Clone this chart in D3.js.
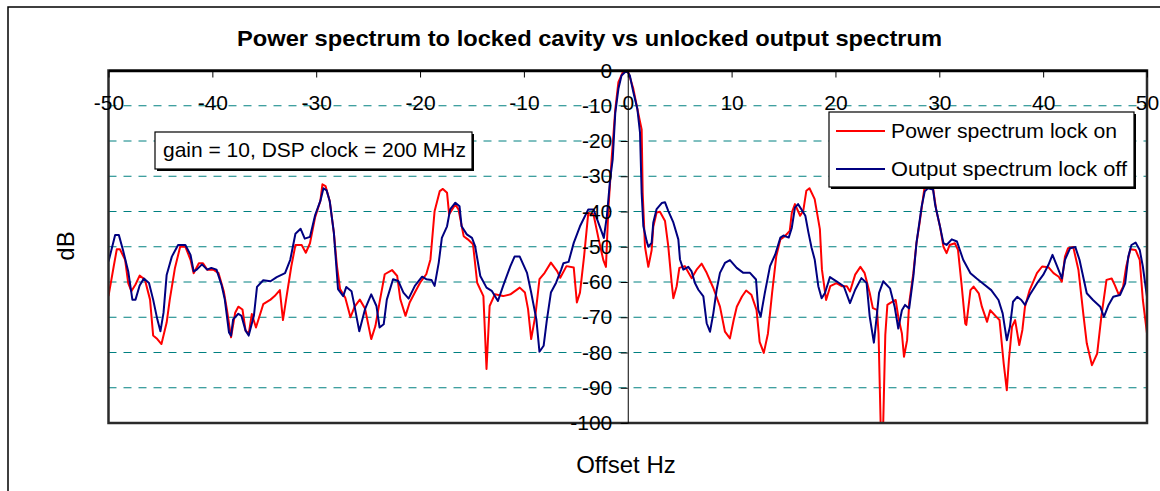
<!DOCTYPE html>
<html><head><meta charset="utf-8">
<script src="https://cdn.jsdelivr.net/npm/d3@7"></script>
<style>
html,body{margin:0;padding:0;background:#fff;}
svg{display:block;font-family:"Liberation Sans",Arial,sans-serif;}
</style></head>
<body><svg id="chart" width="1160" height="491"></svg>
<script>
// ---- data ----
const chartTitle = "Power spectrum to locked cavity vs unlocked output spectrum";
const xLabel = "Offset Hz";
const yLabel = "dB";
const seriesNames = ["Power spectrum lock on", "Output spectrum lock off"];
const noteText = "gain = 10, DSP clock = 200 MHz";
const xTicks = [-50,-40,-30,-20,-10,0,10,20,30,40,50];
const yTicks = [0,-10,-20,-30,-40,-50,-60,-70,-80,-90,-100];

// Power spectrum lock on (red)
const lockOnHz = [-50,-49.5,-49.2,-48.9,-48.4,-48.1,-47.8,-47.4,-47.0,-46.5,-46.0,-45.7,-45.3,-44.9,-44.4,-44.1,-43.6,-43.1,-42.6,-42.1,-41.8,-41.3,-40.9,-40.5,-39.9,-39.4,-38.9,-38.6,-38.2,-37.8,-37.5,-37.1,-36.8,-36.5,-36.2,-35.8,-35.1,-34.4,-34.0,-33.5,-33.2,-32.9,-32.4,-32.0,-31.4,-31.0,-30.6,-30.1,-29.6,-29.4,-29.1,-28.7,-28.3,-28.0,-27.7,-27.2,-26.7,-26.3,-25.8,-25.3,-24.7,-24.3,-23.9,-23.4,-22.7,-22.2,-21.9,-21.4,-21.0,-20.5,-20.0,-19.4,-19.0,-18.6,-18.1,-17.8,-17.4,-17.2,-16.6,-16.3,-15.8,-15.4,-14.9,-14.5,-13.9,-13.6,-13.3,-12.8,-12.0,-11.3,-10.4,-9.9,-9.6,-9.3,-8.9,-8.5,-8.0,-7.4,-6.8,-6.5,-5.9,-5.2,-4.9,-4.6,-4.2,-3.8,-3.3,-2.8,-2.35,-2.1,-1.87,-1.55,-1.2,-0.9,-0.4,0.06,0.54,1.0,1.34,1.44,1.66,1.98,2.3,2.46,2.78,3.1,3.59,3.9,4.23,4.39,4.71,4.97,5.5,6.15,6.63,7.12,7.6,8.24,8.88,9.36,9.84,10.2,10.5,11.0,11.4,11.9,12.4,12.7,13.1,13.5,13.9,14.3,14.7,15.1,15.6,15.8,16.1,16.6,16.9,17.2,17.5,18.0,18.5,18.7,19.1,19.5,20.1,20.6,21.1,21.4,21.9,22.4,22.8,23.3,23.6,24.0,24.15,24.35,24.6,24.8,25.0,25.25,25.8,26.05,26.4,26.6,26.9,27.1,27.5,27.8,28.1,28.5,28.6,29.1,29.4,29.7,30.07,30.4,30.7,31.0,31.5,31.8,32.15,32.5,32.6,33.0,33.3,33.8,34.1,34.6,34.9,35.5,35.8,36.2,36.5,36.7,37.0,37.3,37.7,38.0,38.25,38.7,39.4,39.9,40.5,41.0,41.5,41.8,42.1,42.4,42.9,43.4,43.9,44.2,44.7,45.2,45.6,46.1,46.6,46.9,47.3,47.7,48.0,48.4,48.9,49.3,49.6,50.0];
const lockOnDb = [-64,-55.6,-50.7,-50.7,-53.7,-60.3,-62.6,-60.7,-58.2,-59.3,-65,-75.2,-76.2,-77.6,-71.5,-65,-56,-50,-50,-53.7,-57.5,-54.7,-54.7,-56.5,-56.5,-57.5,-62.6,-67.8,-75.7,-68.7,-67,-67.8,-73.8,-74.7,-69.1,-72.9,-66.3,-65,-64,-62.3,-70.8,-65,-55.6,-49.5,-49.5,-51.7,-49,-41.6,-37,-32.3,-32.8,-37,-46,-55.6,-62,-64.5,-70,-67,-65,-67.5,-76.2,-72.5,-65.8,-57.8,-56.6,-58.3,-64.9,-69.6,-65.8,-63,-60.2,-57.8,-53.6,-39.9,-34.2,-33.6,-34.7,-40.8,-38,-39.4,-47,-47.9,-49.3,-60.2,-64,-84.7,-66.8,-63.5,-64,-63.5,-61.6,-63,-67.7,-76.2,-69.6,-59.2,-57.4,-54.5,-56.9,-58.8,-55.5,-55.9,-65.8,-63,-52.6,-40.4,-40.8,-47.9,-53.8,-55.7,-39.5,-25,-11,-3.3,0,-0.5,-5.2,-12,-16.7,-34.8,-50,-55.7,-51,-44.3,-40.3,-40.1,-42.7,-49.8,-60.3,-64.6,-61.2,-56,-55.5,-58.9,-56.5,-54.8,-57.4,-61.7,-67,-74.1,-76,-70.8,-67,-64.1,-62.4,-63.6,-67.9,-77,-80.1,-74.6,-63.1,-52.7,-47.9,-47.1,-45.5,-40.3,-37.9,-41.2,-39.8,-34.1,-33.4,-36.5,-45,-56.5,-65.1,-61.2,-60.3,-61.2,-61.2,-62.7,-57.9,-55.7,-57.4,-63.1,-67.4,-67.9,-74.6,-100,-100,-75,-66.5,-66,-65.1,-69.9,-74.6,-81.2,-76.5,-66,-57.5,-49,-43.3,-34.8,-32.9,-32.4,-33.4,-39.5,-44.3,-50,-51.8,-49.5,-49,-50.9,-60.9,-71.8,-72.2,-62.3,-61.3,-63.2,-67,-71.3,-68,-69.9,-70.8,-83.1,-90.7,-82.2,-72.7,-70.8,-77.9,-73.6,-67,-62.3,-57.5,-55.6,-55.8,-57.5,-58.5,-59.9,-52.8,-50.4,-50.1,-56.6,-69.9,-77.4,-83.6,-80.3,-69.9,-59.4,-59,-60.9,-63.7,-61.3,-55.6,-50.7,-50.9,-53.7,-65.1,-74.6];

// Output spectrum lock off (blue)
const lockOffHz = [-50,-49.36,-49.0,-48.6,-48.1,-47.7,-47.4,-47.0,-46.6,-46.1,-45.7,-45.3,-45.0,-44.7,-44.4,-43.9,-43.3,-42.6,-42.1,-41.8,-41.5,-41.0,-40.5,-40.1,-39.6,-39.1,-38.8,-38.4,-38.2,-38.0,-37.5,-37.2,-36.8,-36.5,-36.0,-35.7,-35.1,-34.4,-33.8,-33.0,-32.5,-32.0,-31.5,-31.1,-30.6,-30.1,-29.6,-29.3,-29.0,-28.7,-28.3,-27.9,-27.4,-27.1,-26.6,-26.3,-25.85,-25.3,-24.7,-24.2,-23.9,-23.5,-23.2,-22.6,-22.1,-21.6,-21.1,-20.5,-19.8,-19.4,-18.9,-18.6,-18.2,-17.9,-17.4,-17.1,-16.6,-16.2,-16.0,-15.5,-15.0,-14.7,-14.2,-13.6,-13.1,-12.5,-12.0,-11.3,-10.9,-10.4,-9.7,-9.3,-8.8,-8.5,-8.1,-7.8,-7.4,-6.9,-6.4,-6.2,-5.7,-5.2,-4.6,-3.8,-3.3,-2.7,-2.3,-2.0,-1.7,-1.45,-1.2,-0.9,-0.6,-0.1,0.2,0.54,0.93,1.18,1.34,1.5,1.82,1.98,2.3,2.46,2.78,3.27,3.59,3.9,4.39,4.87,5.03,5.35,5.83,6.15,6.47,6.8,7.28,7.6,7.92,8.24,8.56,8.88,9.36,9.84,10.49,11.13,11.77,12.35,12.57,12.8,13.2,13.7,14.2,14.7,15.0,15.5,15.8,16.1,16.4,16.7,17.1,17.4,17.7,18.0,18.35,18.67,18.99,19.47,20.1,20.8,21.4,21.9,22.5,23.0,23.3,23.7,23.97,24.2,24.6,25.25,25.7,26.05,26.4,26.7,27.1,27.5,27.8,28.3,28.6,28.9,29.4,29.6,30.07,30.4,30.7,31.2,31.7,32.3,33.0,33.6,34.2,35.0,35.7,36.1,36.5,36.8,37.1,37.5,37.9,38.25,38.7,39.4,40.0,40.5,40.9,41.3,41.8,42.1,42.6,43.1,43.5,44.2,44.8,45.5,45.85,46.3,46.75,47.4,47.9,48.2,48.5,48.9,49.3,49.6,50.0];
const lockOffDb = [-54.2,-46.7,-46.7,-51,-57,-65,-65,-61,-59,-60.3,-65,-70.6,-74,-68.7,-58,-52.8,-49.5,-49.5,-52.3,-57,-56.5,-55,-56.5,-56,-56.5,-61,-65,-74.3,-75.2,-70.6,-69,-69.6,-73.8,-75.2,-69.6,-61.4,-59.5,-59.8,-58.6,-57.5,-53.7,-46.3,-44.9,-47.7,-47.2,-41,-37,-33.4,-34,-37,-46,-62,-64,-61.4,-62.6,-67,-74,-67.7,-63.5,-66.8,-72.9,-72,-65,-59.2,-59.7,-63,-64.7,-61.1,-58.5,-59.2,-59.4,-61.1,-54.5,-47.5,-44.2,-39.4,-37.5,-38.5,-44.2,-46.5,-47.5,-49.8,-58.3,-61.6,-62.5,-65.4,-61.1,-55.5,-52.8,-52.8,-57.4,-63,-70.6,-79.8,-78.1,-71,-63,-60.2,-56.4,-54.7,-54.3,-48.9,-44.2,-39.4,-39.4,-44.2,-47.5,-41,-31,-25.2,-12,-5.2,-1.4,0,-1.4,-6.2,-11,-17.6,-34.8,-44.1,-48.4,-50,-48.9,-43.1,-39.3,-37.6,-37.4,-39.8,-43.1,-47.9,-53.6,-56.5,-55.7,-57,-60.3,-62.2,-64.1,-71.7,-74.1,-68.9,-62.2,-57.4,-54.6,-53.8,-56,-57.4,-57.4,-59.3,-67.9,-69.8,-63.1,-55.5,-52.2,-47.4,-46.8,-47.4,-44.6,-38.9,-37.9,-39.3,-41.2,-46,-50.3,-53.6,-61.2,-64.6,-63.1,-58.6,-59.8,-61.2,-66,-62.2,-58.9,-60.3,-69.8,-77.2,-69.8,-63.1,-59.8,-61.8,-67,-73.2,-68,-66.5,-67.5,-58.5,-49,-38.6,-34.3,-33.4,-33.8,-38.1,-44.3,-49,-49.5,-47.9,-48.5,-53.7,-57.5,-59,-60.4,-62.3,-65.1,-68.9,-76.5,-72.7,-65.6,-64.2,-65.1,-66.5,-63.7,-60.4,-58,-55.2,-52.3,-55.2,-59,-53.7,-50.4,-50.1,-53.7,-63.2,-65.1,-67,-69.9,-66.5,-64.2,-63.7,-60.4,-52.8,-49.5,-48.8,-50.9,-55.6,-64.2];

const seriesColors = ["#FF0000", "#000080"];

// ---- drawing ----
const svg = d3.select("#chart");
const L = 108.5, R = 1147, T = 70.5, B = 423;
const x = d3.scaleLinear().domain([-50, 50]).range([L, R]);
const y = d3.scaleLinear().domain([-100, 0]).range([B, T]);
const plainFmt = d => String(d);

// outer frame
svg.append("rect").attr("x", 8).attr("y", 7).attr("width", 1160).attr("height", 500)
  .attr("fill", "#fff").attr("stroke", "#000").attr("stroke-width", 1.5);

// title
svg.append("text").attr("x", 589.5).attr("y", 46).attr("text-anchor", "middle")
  .attr("font-size", 22).attr("font-weight", "bold")
  .attr("textLength", 705).attr("lengthAdjust", "spacingAndGlyphs").text(chartTitle);

// gridlines
svg.append("g").selectAll("line").data(yTicks.filter(d => d > -100 && d < 0)).join("line")
  .attr("x1", L).attr("x2", R).attr("y1", d => y(d)).attr("y2", d => y(d))
  .attr("stroke", "#008080").attr("stroke-width", 1).attr("stroke-dasharray", "8,7");

// clip
svg.append("clipPath").attr("id", "clip").append("rect")
  .attr("x", L).attr("y", T).attr("width", R - L).attr("height", B - T + 1);

const line = d3.line().x(d => x(d[0])).y(d => y(d[1]));
const seriesData = [
  d3.zip(lockOnHz, lockOnDb),
  d3.zip(lockOffHz, lockOffDb)
];
const lg = svg.append("g").attr("clip-path", "url(#clip)");
seriesData.forEach((s, i) => {
  lg.append("path").datum(s).attr("d", line).attr("fill", "none")
    .attr("stroke", seriesColors[i]).attr("stroke-width", 2).attr("stroke-linejoin", "round");
});

// plot border
svg.append("rect").attr("x", L).attr("y", T).attr("width", R - L).attr("height", B - T)
  .attr("fill", "none").attr("stroke", "#2a2a2a").attr("stroke-width", 2.5);

// x axis (at y=0, top)
const xAxis = d3.axisBottom(x).tickValues(xTicks).tickFormat(plainFmt)
  .tickSize(7).tickSizeOuter(0).tickPadding(17.5);
const gx = svg.append("g").attr("transform", `translate(0,${T})`).call(xAxis);
gx.select(".domain").attr("stroke", "#000").attr("stroke-width", 2.5);
gx.selectAll(".tick line").attr("stroke", "#000");
gx.selectAll("text").attr("font-size", 21).attr("fill", "#000")
  .attr("font-family", "Liberation Sans, Arial, sans-serif");

// y axis (at x=0)
const yAxis = d3.axisLeft(y).tickValues(yTicks).tickFormat(plainFmt)
  .tickSize(7).tickSizeOuter(0).tickPadding(8.5);
const gy = svg.append("g").attr("transform", `translate(${x(0)},0)`).call(yAxis);
gy.select(".domain").attr("stroke", "#000").attr("stroke-width", 1);
gy.selectAll(".tick line").attr("stroke", "#000");
gy.selectAll("text").attr("font-size", 21).attr("fill", "#000")
  .attr("font-family", "Liberation Sans, Arial, sans-serif");

// axis titles
svg.append("text").attr("x", 626).attr("y", 473).attr("text-anchor", "middle")
  .attr("font-size", 24).text(xLabel);
svg.append("text").attr("transform", "translate(73.5,246) rotate(-90)")
  .attr("text-anchor", "middle").attr("font-size", 24).text(yLabel);

// annotation box
const nb = {x: 155, y: 132, w: 317, h: 37};
svg.append("rect").attr("x", nb.x + 2).attr("y", nb.y + 2).attr("width", nb.w).attr("height", nb.h).attr("fill", "#000");
svg.append("rect").attr("x", nb.x).attr("y", nb.y).attr("width", nb.w).attr("height", nb.h)
  .attr("fill", "#fff").attr("stroke", "#000").attr("stroke-width", 1.2);
svg.append("text").attr("x", 163).attr("y", 156.5).attr("font-size", 21)
  .attr("textLength", 303).attr("lengthAdjust", "spacingAndGlyphs").text(noteText);

// legend
const lb = {x: 829, y: 112, w: 305, h: 75};
svg.append("rect").attr("x", lb.x + 2).attr("y", lb.y + 2).attr("width", lb.w).attr("height", lb.h).attr("fill", "#000");
svg.append("rect").attr("x", lb.x).attr("y", lb.y).attr("width", lb.w).attr("height", lb.h)
  .attr("fill", "#fff").attr("stroke", "#000").attr("stroke-width", 1.2);
const legY = [131, 169];
seriesNames.forEach((n, i) => {
  svg.append("line").attr("x1", 836).attr("x2", 885).attr("y1", legY[i]).attr("y2", legY[i])
    .attr("stroke", seriesColors[i]).attr("stroke-width", 2);
  svg.append("text").attr("x", 891).attr("y", legY[i] + 6.5).attr("font-size", 21)
    .attr("textLength", i === 0 ? 226 : 236).attr("lengthAdjust", "spacingAndGlyphs").text(n);
});
</script></body></html>
